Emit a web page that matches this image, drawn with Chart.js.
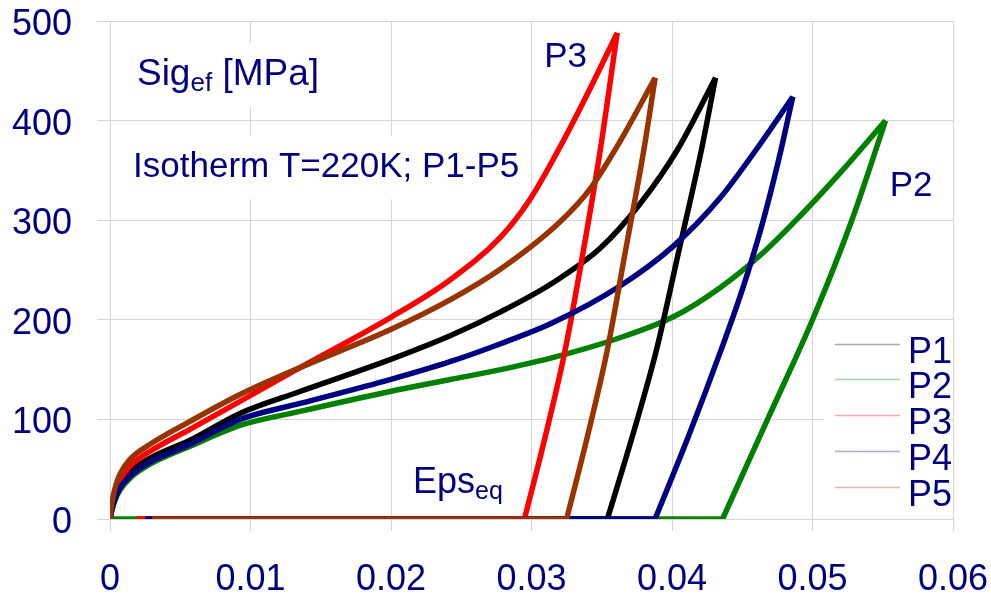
<!DOCTYPE html>
<html>
<head>
<meta charset="utf-8">
<script src="https://cdn.jsdelivr.net/npm/chart.js@4.4.1/dist/chart.umd.min.js"></script>
<style>
  html, body { margin: 0; padding: 0; background: #fff; }
</style>
</head>
<body>
<canvas id="chart" width="991" height="600"></canvas>
<script>
// Isotherm T=220K, paths P1-P5: effective stress vs equivalent strain
const seriesNames = ['P1', 'P2', 'P3', 'P4', 'P5'];
const curveColors = ['#000000', '#008000', '#ff0000', '#000080', '#993300'];
const legendColors = ['#a8a8a8', '#a8d2a8', '#ffa8a8', '#a8a8d2', '#dcbcaa'];

const strainTicks = [0, 0.01, 0.02, 0.03, 0.04, 0.05, 0.06];
const stressTicks = [0, 100, 200, 300, 400, 500];

// loading branches [eps, sig]
const p1Load = [[0, 0], [0.00014, 12], [0.00036, 23], [0.00071, 34], [0.00142, 47], [0.00285, 61], [0.00569, 79], [0.00925, 106], [0.01352, 128], [0.01993, 160], [0.0242, 184], [0.0278, 208], [0.0315, 237], [0.0349, 272], [0.0377, 316], [0.0404, 371], [0.0431, 443]];
const p2Load = [[0, 0], [0.00014, 9], [0.00036, 19], [0.00071, 29], [0.00142, 41], [0.00285, 55], [0.00569, 73], [0.00925, 94], [0.01352, 108], [0.01993, 128], [0.0242, 140], [0.0278, 150], [0.0315, 162], [0.0363, 182], [0.0401, 203], [0.0434, 232], [0.0463, 265], [0.0491, 304], [0.052, 348], [0.0552, 400]];
const p3Load = [[0, 0], [0.00014, 14], [0.00036, 27], [0.00071, 39], [0.00142, 53], [0.00285, 68], [0.00569, 90], [0.00925, 118], [0.01352, 152], [0.01993, 202], [0.0242, 240], [0.0278, 283], [0.0299, 321], [0.0322, 378], [0.0342, 433], [0.0361, 488]];
const p4Load = [[0, 0], [0.00014, 10], [0.00036, 20], [0.00071, 31], [0.00142, 43], [0.00285, 57], [0.00569, 75], [0.00925, 100], [0.01352, 116], [0.01993, 140], [0.0242, 158], [0.0278, 176], [0.0315, 197], [0.0363, 234], [0.0401, 274], [0.0434, 322], [0.046, 371], [0.0486, 424]];
const p5Load = [[0, 0], [0.00014, 16], [0.00036, 31], [0.00071, 45], [0.00142, 60], [0.00285, 75], [0.00569, 98], [0.00925, 125], [0.01352, 152], [0.01993, 190], [0.0242, 220], [0.0278, 251], [0.032, 298], [0.0342, 332], [0.0363, 379], [0.0388, 443]];

// unloading branches down to the residual strain
const p1Unload = [[0.0431, 443], [0.0421, 371], [0.0405, 270], [0.0389, 170], [0.0372, 84], [0.0354, 0]];
const p2Unload = [[0.0552, 400], [0.0528, 300], [0.05, 200], [0.0468, 100], [0.0436, 0]];
const p3Unload = [[0.0361, 488], [0.0349, 371], [0.0337, 270], [0.0324, 170], [0.031, 84], [0.0295, 0]];
const p4Unload = [[0.0486, 424], [0.0476, 361], [0.0464, 295], [0.045, 230], [0.0435, 170], [0.0412, 84], [0.0388, 0]];
const p5Unload = [[0.0388, 443], [0.038, 371], [0.0367, 270], [0.0354, 170], [0.034, 84], [0.0325, 0]];

// zero-stress run back along the strain axis
const p1Zero = [[0.0354, 0], [0.003, 0]];
const p2Zero = [[0.0436, 0], [0.0002, 0]];
const p3Zero = [[0.0295, 0], [0.0019, 0]];
const p4Zero = [[0.0388, 0], [0.0025, 0]];
const p5Zero = [[0.0325, 0], [0.003, 0]];

const loads = [p1Load, p2Load, p3Load, p4Load, p5Load];
const unloads = [p1Unload, p2Unload, p3Unload, p4Unload, p5Unload];
const zeros = [p1Zero, p2Zero, p3Zero, p4Zero, p5Zero];

// first one drawn on top
const drawOrder = [4, 3, 2, 0, 1];

const FONT = '"Liberation Sans", Arial, sans-serif';
const NAVY = '#000080';

const toXY = arr => arr.map(p => ({ x: p[0], y: p[1] }));

const lineSet = (name, pts, color, smooth) => ({
    label: name,
    data: toXY(pts),
    borderColor: color,
    borderWidth: 5.5,
    cubicInterpolationMode: smooth ? 'monotone' : 'default',
    tension: 0,
    pointRadius: 0,
    showLine: true,
    borderJoinStyle: 'round'
});

const datasets = [];
drawOrder.forEach(i => {
    datasets.push(lineSet(seriesNames[i], loads[i], curveColors[i], true));
    datasets.push(lineSet(seriesNames[i], unloads[i], curveColors[i], true));
    datasets.push(lineSet(seriesNames[i], zeros[i], curveColors[i], false));
});

// text notes placed in data coordinates (left edge, baseline)
const notes = [
    { text: 'Sig', sub: 'ef', rest: ' [MPa]', at: [0.00192, 436], size: 37, subSize: 26 },
    { text: 'Isotherm T=220K; P1-P5', at: [0.00164, 343], size: 35 },
    { text: 'P3', at: [0.0309, 454], size: 35 },
    { text: 'P2', at: [0.0555, 324], size: 35 },
    { text: 'Eps', sub: 'eq', at: [0.02157, 26], size: 36, subSize: 25 }
];

const overlay = {
    id: 'overlay',
    beforeDatasetsDraw(chart) {
        const { ctx, scales: { x, y } } = chart;
        ctx.save();
        ctx.textBaseline = 'alphabetic';
        ctx.textAlign = 'left';

        notes.forEach(n => {
            const px = x.getPixelForValue(n.at[0]);
            const py = y.getPixelForValue(n.at[1]);
            const mainFont = n.size + 'px ' + FONT;
            const subFont = n.subSize + 'px ' + FONT;
            ctx.font = mainFont;
            const w = ctx.measureText(n.text).width;
            let subW = 0, restW = 0;
            if (n.sub) {
                ctx.font = subFont;
                subW = ctx.measureText(n.sub).width;
            }
            if (n.rest) {
                ctx.font = mainFont;
                restW = ctx.measureText(n.rest).width;
            }
            ctx.fillStyle = '#ffffff';
            ctx.fillRect(px - 12, py - 42, w + subW + restW + 24, 64);

            ctx.fillStyle = NAVY;
            ctx.font = mainFont;
            ctx.fillText(n.text, px, py);
            if (n.sub) {
                ctx.font = subFont;
                ctx.fillText(n.sub, px + w, py + 6);
            }
            if (n.rest) {
                ctx.font = mainFont;
                ctx.fillText(n.rest, px + w + subW, py);
            }
        });

        // legend box
        const lx = x.getPixelForValue(0.0516);
        const ly = y.getPixelForValue(176);
        const gap = 35.7;
        ctx.fillStyle = '#ffffff';
        ctx.fillRect(lx - 11, ly - 14, 119, 176);
        seriesNames.forEach((name, i) => {
            const yy = Math.round(ly + i * gap) + 0.5;
            ctx.strokeStyle = legendColors[i];
            ctx.lineWidth = 1.5;
            ctx.beginPath();
            ctx.moveTo(lx, yy);
            ctx.lineTo(lx + 65, yy);
            ctx.stroke();
            ctx.fillStyle = NAVY;
            ctx.font = '36px ' + FONT;
            ctx.fillText(name, lx + 73, yy + 18);
        });
        ctx.restore();
    }
};

const gridColor = '#d4d4d4';

const fixPadding = axis => {
    axis.paddingTop = 0;
    axis.paddingBottom = 0;
    axis.paddingLeft = 0;
    axis.paddingRight = 0;
};

new Chart(document.getElementById('chart'), {
    type: 'scatter',
    data: { datasets: datasets },
    options: {
        responsive: false,
        animation: false,
        layout: { padding: { top: 21, right: 38, left: 0, bottom: 0 } },
        plugins: {
            legend: { display: false },
            tooltip: { enabled: false }
        },
        scales: {
            x: {
                type: 'linear',
                min: 0,
                max: 0.06,
                afterBuildTicks: axis => { axis.ticks = strainTicks.map(v => ({ value: v })); },
                afterFit: axis => { axis.height = 81; fixPadding(axis); },
                grid: { color: gridColor, tickLength: 12, tickColor: gridColor },
                border: { color: gridColor },
                ticks: {
                    color: NAVY,
                    padding: 27,
                    maxRotation: 0,
                    font: { family: FONT, size: 36 },
                    callback: v => String(Number(v.toFixed(2)))
                }
            },
            y: {
                type: 'linear',
                min: 0,
                max: 500,
                afterBuildTicks: axis => { axis.ticks = stressTicks.map(v => ({ value: v })); },
                afterFit: axis => { axis.width = 110; fixPadding(axis); },
                grid: { color: gridColor, tickLength: 13, tickColor: gridColor },
                border: { color: gridColor },
                ticks: {
                    color: NAVY,
                    padding: 25,
                    labelOffset: 4,
                    font: { family: FONT, size: 36 }
                }
            }
        }
    },
    plugins: [overlay]
});
</script>
</body>
</html>
